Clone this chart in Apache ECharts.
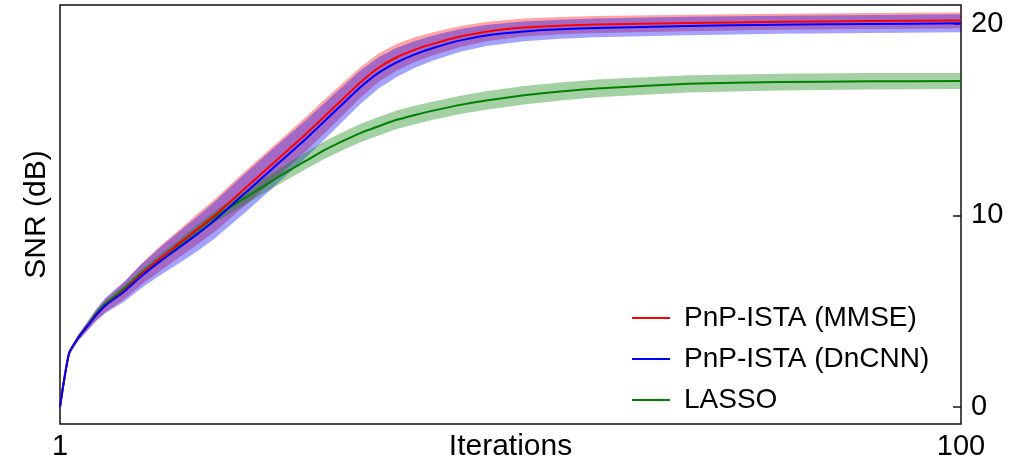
<!DOCTYPE html>
<html>
<head>
<meta charset="utf-8">
<script src="https://cdn.jsdelivr.net/npm/echarts@6/dist/echarts.min.js"></script>
<style>
  html, body { margin: 0; padding: 0; background: #fff; }
  #main { width: 1028px; height: 463px; }
</style>
</head>
<body>
<div id="main"></div>
<script>
var iters = [1, 2, 3, 4, 5, 6, 8, 10, 12, 14, 16, 18, 20, 22, 24, 26, 28, 30, 32, 34, 36, 38, 40, 42, 45, 48, 52, 56, 60, 70, 80, 90, 100];

// mean SNR (dB)
var mmse = [0, 2.8, 3.6, 4.2, 4.8, 5.3, 6.05, 6.95, 7.75, 8.5, 9.25, 10.0, 10.85, 11.7, 12.55, 13.4, 14.25, 15.15, 16.05, 16.95, 17.72, 18.27, 18.67, 18.97, 19.35, 19.62, 19.82, 19.92, 19.98, 20.06, 20.12, 20.16, 20.19];
var dncnn = [0, 2.8, 3.6, 4.2, 4.8, 5.3, 6.0, 6.85, 7.6, 8.3, 9.0, 9.75, 10.6, 11.45, 12.3, 13.15, 14.0, 14.9, 15.8, 16.7, 17.45, 18.0, 18.42, 18.75, 19.15, 19.42, 19.62, 19.73, 19.8, 19.9, 19.97, 20.01, 20.04];
var lasso = [0, 2.8, 3.62, 4.25, 4.88, 5.4, 6.15, 7.0, 7.75, 8.45, 9.2, 9.92, 10.53, 11.12, 11.72, 12.3, 12.85, 13.4, 13.87, 14.3, 14.66, 15.0, 15.25, 15.48, 15.78, 16.02, 16.28, 16.48, 16.64, 16.88, 16.97, 17.01, 17.03];

// spread (std, dB) for the shaded bands
var mmseStd = [0, 0.1, 0.15, 0.2, 0.28, 0.35, 0.45, 0.55, 0.65, 0.72, 0.8, 0.85, 0.88, 0.9, 0.9, 0.9, 0.9, 0.88, 0.85, 0.8, 0.75, 0.7, 0.65, 0.6, 0.55, 0.5, 0.47, 0.45, 0.44, 0.43, 0.42, 0.42, 0.42];
var dncnnStd = [0, 0.1, 0.17, 0.24, 0.32, 0.4, 0.52, 0.63, 0.73, 0.82, 0.9, 0.96, 1.0, 1.02, 1.02, 1.0, 0.98, 0.95, 0.92, 0.88, 0.82, 0.76, 0.7, 0.65, 0.6, 0.55, 0.52, 0.5, 0.49, 0.48, 0.47, 0.47, 0.47];
var lassoStd = [0, 0.05, 0.08, 0.1, 0.12, 0.14, 0.17, 0.2, 0.22, 0.25, 0.28, 0.3, 0.33, 0.36, 0.39, 0.42, 0.44, 0.46, 0.47, 0.48, 0.48, 0.48, 0.48, 0.48, 0.48, 0.48, 0.48, 0.47, 0.46, 0.45, 0.44, 0.43, 0.42];

var names = ['PnP-ISTA (MMSE)', 'PnP-ISTA (DnCNN)', 'LASSO'];
var xTicks = [1, 100];
var yTicks = [0, 10, 20];

var FONT = '"Liberation Sans", Arial, Helvetica, sans-serif';

function pairs(ys) {
    return iters.map(function (x, i) { return [x, ys[i]]; });
}

// shaded mean +- std band, drawn as one polygon through the axis scales
function band(key, mean, std, color) {
    var rows = iters.map(function (x, i) { return [x, mean[i] - std[i], mean[i] + std[i]]; });
    return {
        type: 'custom', name: key, data: rows, z: 1, silent: true, clip: true,
        encode: { x: 0, y: [1, 2] },
        renderItem: function (params, api) {
            if (params.dataIndex !== 0) return null;
            var pts = [];
            rows.forEach(function (r) { pts.push(api.coord([r[0], r[2]])); });
            for (var i = rows.length - 1; i >= 0; i--) pts.push(api.coord([rows[i][0], rows[i][1]]));
            return { type: 'polygon', shape: { points: pts }, style: { fill: color } };
        }
    };
}

function mainLine(name, mean, color) {
    return {
        name: name, type: 'line', data: pairs(mean), symbol: 'none', z: 3,
        smooth: 0.2,
        color: color, lineStyle: { color: color, width: 2 }
    };
}

var myChart = echarts.init(document.getElementById('main'));

var option = {
    animation: false,
    grid: {
        left: 60, right: 67, top: 5, bottom: 39,
        outerBoundsMode: 'none', containLabel: false,
        show: true, borderColor: '#111', borderWidth: 1.5
    },
    legend: {
        data: names,
        orient: 'vertical',
        left: 632, top: 304, padding: 0,
        icon: 'rect',
        itemWidth: 38, itemHeight: 2, itemGap: 13,
        textStyle: { fontSize: 28, lineHeight: 28, color: '#000', fontFamily: FONT, padding: [0, 0, 0, 9] }
    },
    xAxis: {
        type: 'value', min: 1, max: 100,
        name: 'Iterations', nameLocation: 'middle', nameGap: 8, nameMoveOverlap: false,
        nameTextStyle: { fontSize: 30, color: '#000', fontFamily: FONT, verticalAlign: 'top' },
        axisLine: { show: false },
        axisTick: { show: false },
        splitLine: { show: false },
        axisLabel: { customValues: xTicks, fontSize: 29, color: '#000', fontFamily: FONT, margin: 8 }
    },
    yAxis: [{
        type: 'value', min: -0.9, max: 21, position: 'right',
        axisLine: { show: false },
        axisTick: { show: true, inside: true, length: 8, customValues: yTicks, lineStyle: { color: '#111', width: 1.5 } },
        splitLine: { show: false },
        axisLabel: { customValues: yTicks, fontSize: 29, color: '#000', fontFamily: FONT, margin: 10 }
    }, {
        type: 'value', min: -0.9, max: 21, position: 'left',
        name: 'SNR (dB)', nameLocation: 'middle', nameGap: 8, nameMoveOverlap: false,
        nameTextStyle: { fontSize: 30, color: '#000', fontFamily: FONT },
        axisLine: { show: false }, axisTick: { show: false },
        axisLabel: { show: false }, splitLine: { show: false }
    }],
    series: [
        band('mmse', mmse, mmseStd, 'rgba(255,0,0,0.36)'),
        band('dncnn', dncnn, dncnnStd, 'rgba(0,0,255,0.36)'),
        band('lasso', lasso, lassoStd, 'rgba(0,128,0,0.36)'),
        mainLine(names[2], lasso, '#008000'),
        mainLine(names[0], mmse, '#ff0000'),
        mainLine(names[1], dncnn, '#0000ff')
    ]
};

myChart.setOption(option);
</script>
</body>
</html>
